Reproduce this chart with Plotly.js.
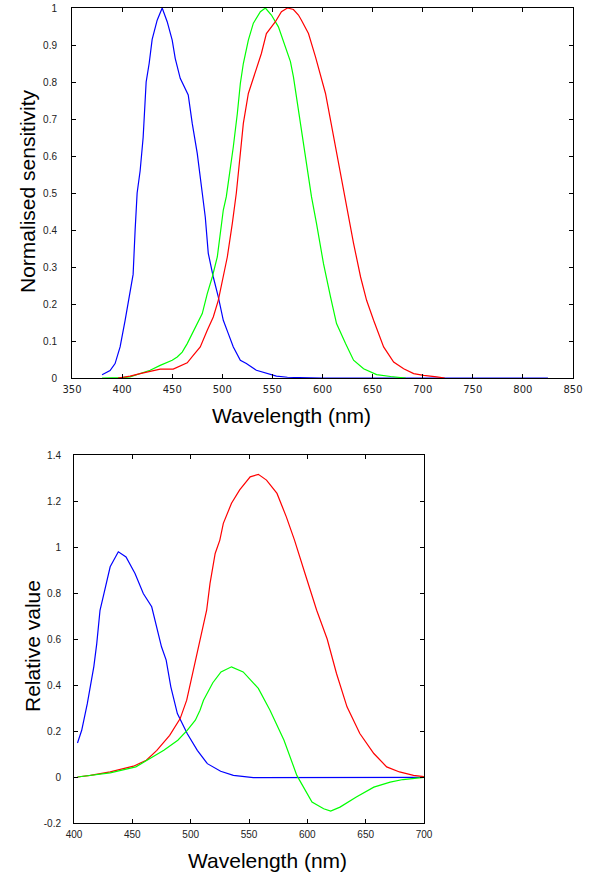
<!DOCTYPE html>
<html>
<head>
<meta charset="utf-8">
<script src="https://cdn.plot.ly/plotly-3.0.1.min.js"></script>
<style>html,body{margin:0;padding:0;background:#fff;}#chart{width:595px;height:875px;}</style>
</head>
<body>
<div id="chart"></div>
<script>
// ---- Top chart: cone sensitivities ----
const topBlueWl = [380, 388, 393, 398, 403, 406, 411, 413, 415, 418, 421, 424, 427, 430, 435, 440, 445, 450, 453, 458, 462, 466, 470, 475, 480, 483, 486, 491, 496, 501, 506, 511, 518, 524, 534, 544, 554, 565, 600, 700, 825];
const topBlueVal = [0.009, 0.02, 0.039, 0.084, 0.156, 0.2, 0.28, 0.4, 0.5, 0.56, 0.65, 0.8, 0.85, 0.915, 0.967, 1.0, 0.963, 0.913, 0.864, 0.81, 0.787, 0.765, 0.688, 0.607, 0.5, 0.435, 0.337, 0.273, 0.219, 0.156, 0.12, 0.084, 0.048, 0.039, 0.021, 0.012, 0.005, 0.002, 0, 0, 0];

const topGreenWl = [380, 390, 400, 408, 418, 428, 438, 445, 450, 455, 460, 465, 470, 475, 480, 485, 490, 495, 498, 501, 504, 508, 511, 515, 518, 521, 526, 531, 538, 543, 549, 556, 561, 564, 568, 571, 576, 581, 586, 589, 594, 601, 608, 614, 623, 631, 641, 654, 668, 683];
const topGreenVal = [0, 0, 0.001, 0.003, 0.012, 0.021, 0.034, 0.043, 0.048, 0.057, 0.07, 0.093, 0.12, 0.147, 0.174, 0.228, 0.273, 0.327, 0.39, 0.454, 0.49, 0.562, 0.625, 0.715, 0.796, 0.85, 0.913, 0.959, 0.99, 1.0, 0.981, 0.949, 0.91, 0.885, 0.855, 0.814, 0.724, 0.634, 0.553, 0.49, 0.418, 0.309, 0.219, 0.147, 0.093, 0.048, 0.025, 0.009, 0.004, 0];

const topRedWl = [396, 408, 418, 428, 438, 451, 458, 465, 471, 478, 485, 491, 496, 501, 505, 510, 514, 518, 521, 526, 533, 539, 544, 553, 559, 565, 571, 576, 579, 586, 593, 599, 603, 608, 613, 618, 622, 626, 631, 638, 644, 651, 661, 671, 681, 691, 701, 714, 722];
const topRedVal = [0, 0.005, 0.012, 0.018, 0.024, 0.024, 0.032, 0.041, 0.061, 0.084, 0.129, 0.165, 0.21, 0.273, 0.327, 0.418, 0.5, 0.607, 0.688, 0.769, 0.828, 0.877, 0.931, 0.963, 0.99, 1.0, 0.996, 0.981, 0.967, 0.931, 0.868, 0.805, 0.769, 0.697, 0.625, 0.553, 0.49, 0.435, 0.364, 0.273, 0.21, 0.156, 0.084, 0.043, 0.025, 0.012, 0.007, 0.003, 0];

// ---- Bottom chart: colour-matching functions ----
const botBlueWl = [403, 406.6, 411.4, 417, 419.5, 422.3, 425, 431, 438, 444.6, 452.3, 459.4, 466.6, 471, 475, 479, 483, 488.6, 497, 505.7, 514.3, 525.7, 536.6, 553.7, 600, 650, 700];
const botBlueVal = [0.148, 0.203, 0.319, 0.48, 0.58, 0.725, 0.783, 0.914, 0.979, 0.957, 0.885, 0.798, 0.74, 0.653, 0.566, 0.508, 0.392, 0.276, 0.189, 0.116, 0.058, 0.025, 0.007, -0.003, -0.003, -0.003, -0.002];

const botRedWl = [403, 414, 431, 451, 462, 471, 482, 491, 496.6, 501, 505, 508, 510.8, 513.7, 516.6, 521, 525, 528, 535, 542, 551, 558, 565, 574, 582, 589, 598, 608, 617, 625, 634, 645, 657, 668, 679, 691, 700];
const botRedVal = [0, 0.007, 0.022, 0.047, 0.073, 0.116, 0.181, 0.254, 0.334, 0.435, 0.537, 0.595, 0.667, 0.725, 0.842, 0.972, 1.03, 1.103, 1.19, 1.248, 1.305, 1.316, 1.291, 1.233, 1.131, 1.03, 0.885, 0.725, 0.6, 0.45, 0.305, 0.189, 0.102, 0.044, 0.022, 0.007, 0.002];

const botGreenWl = [403, 414, 431, 453, 465, 477, 489, 497, 504, 508, 511, 519, 526, 535, 545, 558, 568, 580, 591, 604, 614, 620, 628, 642, 657, 671, 682, 695, 700];
const botGreenVal = [0, 0.006, 0.018, 0.044, 0.08, 0.116, 0.16, 0.203, 0.247, 0.29, 0.334, 0.41, 0.457, 0.479, 0.457, 0.385, 0.29, 0.16, 0.007, -0.109, -0.138, -0.148, -0.131, -0.087, -0.044, -0.022, -0.011, -0.004, -0.002];

const topXTicks = [350, 400, 450, 500, 550, 600, 650, 700, 750, 800, 850];
const topYTicks = [0, 0.1, 0.2, 0.3, 0.4, 0.5, 0.6, 0.7, 0.8, 0.9, 1];
const botXTicks = [400, 450, 500, 550, 600, 650, 700];
const botYTicks = [-0.2, 0, 0.2, 0.4, 0.6, 0.8, 1, 1.2, 1.4];

const topXTitle = 'Wavelength (nm)';
const topYTitle = 'Normalised sensitivity';
const botXTitle = 'Wavelength (nm)';
const botYTitle = 'Relative value';

const BLUE = '#0000ff', GREEN = '#00ff00', RED = '#ff0000';
function line(x, y, color, xa, ya) {
  return {x: x, y: y, type: 'scatter', mode: 'lines', xaxis: xa, yaxis: ya,
          line: {color: color, width: 1.2}, hoverinfo: 'skip', showlegend: false};
}
const traces = [
  line(topBlueWl, topBlueVal, BLUE, 'x', 'y'),
  line(topGreenWl, topGreenVal, GREEN, 'x', 'y'),
  line(topRedWl, topRedVal, RED, 'x', 'y'),
  line(botBlueWl, botBlueVal, BLUE, 'x2', 'y2'),
  line(botRedWl, botRedVal, RED, 'x2', 'y2'),
  line(botGreenWl, botGreenVal, GREEN, 'x2', 'y2')
];

const W = 595, H = 875;
const tickFont = {family: 'Liberation Sans, Arial, sans-serif', size: 10, color: '#222'};
const xTickFont = {family: 'DejaVu Sans, sans-serif', size: 10, color: '#222'};
const titleFont = {family: 'Liberation Sans, Arial, sans-serif', size: 21, color: '#000'};
const common = {showline: true, linecolor: '#000', linewidth: 1, mirror: 'ticks', ticks: 'inside',
  ticklen: 4, tickcolor: '#000', showgrid: false, zeroline: false, automargin: false, fixedrange: true};

function title(text, px, py, angle) {
  return {text: text, xref: 'paper', yref: 'paper', x: px / W, y: 1 - py / H,
          xanchor: 'center', yanchor: 'middle', showarrow: false, textangle: angle || 0, font: titleFont};
}

const layout = {
  width: W, height: H,
  margin: {l: 0, r: 0, t: 0, b: 0},
  paper_bgcolor: '#fff', plot_bgcolor: '#fff',
  xaxis: Object.assign({}, common, {
    domain: [72 / W, 573 / W], anchor: 'y', range: [350, 850],
    tickvals: topXTicks, ticktext: topXTicks.map(String), tickfont: xTickFont, ticklabelstandoff: 2
  }),
  yaxis: Object.assign({}, common, {
    domain: [1 - 378 / H, 1 - 8 / H], anchor: 'x', range: [0, 1],
    tickvals: topYTicks, ticktext: topYTicks.map(String), tickfont: tickFont, ticklabelstandoff: 12
  }),
  xaxis2: Object.assign({}, common, {
    domain: [74 / W, 424 / W], anchor: 'y2', range: [400, 700],
    tickvals: botXTicks, ticktext: botXTicks.map(String), tickfont: tickFont, ticklabelstandoff: 2
  }),
  yaxis2: Object.assign({}, common, {
    domain: [1 - 823 / H, 1 - 455 / H], anchor: 'x2', range: [-0.2, 1.4],
    tickvals: botYTicks, ticktext: botYTicks.map(String), tickfont: tickFont, ticklabelstandoff: 10
  }),
  annotations: [
    title(topXTitle, 291, 415),
    title(topYTitle, 27, 191, -90),
    title(botXTitle, 267, 860),
    title(botYTitle, 32, 646, -90)
  ]
};

Plotly.newPlot('chart', traces, layout, {staticPlot: true, displayModeBar: false});
</script>
</body>
</html>
